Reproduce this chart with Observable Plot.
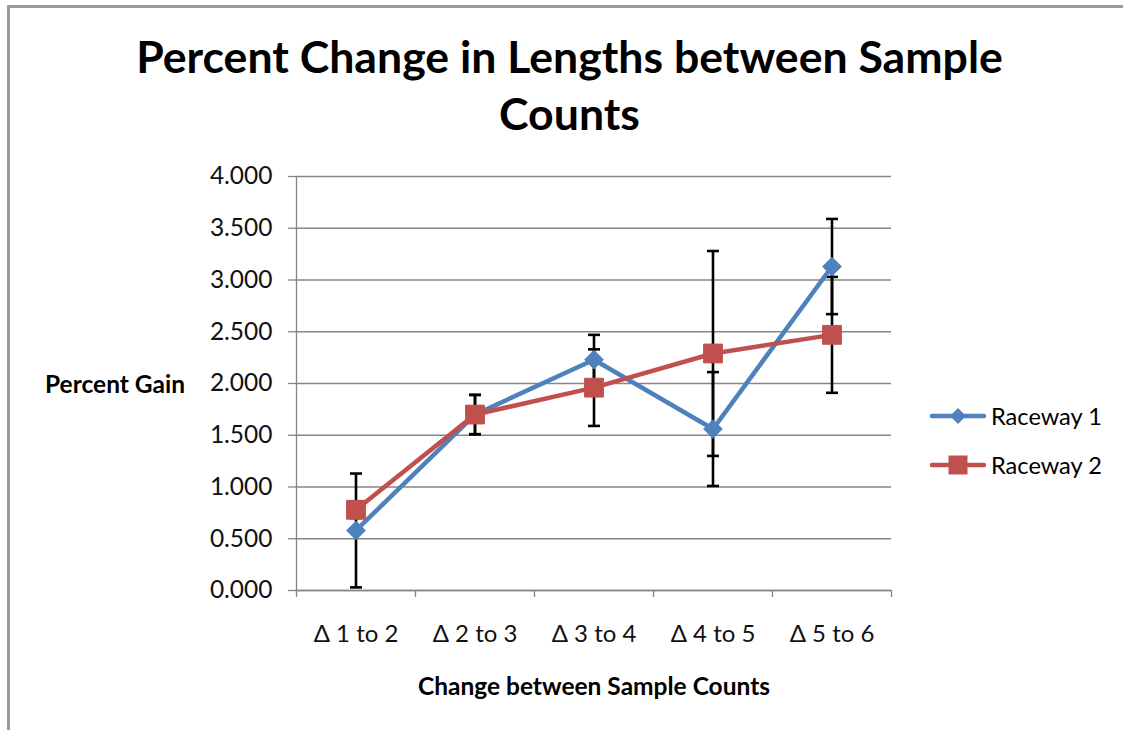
<!DOCTYPE html>
<html>
<head>
<meta charset="utf-8">
<script src="https://cdn.jsdelivr.net/npm/d3@7"></script>
<script src="https://cdn.jsdelivr.net/npm/@observablehq/plot@0.6"></script>
<style>
  html, body { margin: 0; padding: 0; background: #fff; overflow: hidden; }
  #wrap { position: relative; width: 1123px; height: 730px; overflow: hidden; font-family: Lato, "Open Sans", sans-serif; color: #000; }
  #frame { position: absolute; left: 7px; top: 5px; width: 1130px; height: 740px; border-left: 3px solid #9a9a9a; border-top: 3px solid #9a9a9a; box-sizing: border-box; }
  #chart { position: absolute; left: 0; top: 0; }
  .title { position: absolute; left: 0; width: 1139px; top: 27px; text-align: center; font-weight: bold; font-size: 44.6px; line-height: 57px; }
  .ylab { position: absolute; left: 45px; top: 369px; font-weight: bold; font-size: 24.5px; line-height: 30px; white-space: nowrap; }
  .xlab { position: absolute; left: 0; width: 1188px; top: 671px; text-align: center; font-weight: bold; font-size: 24.5px; line-height: 30px; white-space: nowrap; }
  .legend { position: absolute; left: 930px; top: 391px; font-size: 23.6px; }
  .legend .item { display: flex; align-items: center; height: 49px; }
  .legend svg { margin-right: 5px; }
</style>
</head>
<body>
<div id="wrap">
  <div id="frame"></div>
  <div id="chart"></div>
  <div class="title">Percent Change in Lengths between Sample<br>Counts</div>
  <div class="ylab">Percent Gain</div>
  <div class="xlab">Change between Sample Counts</div>
  <div class="legend" id="legend"></div>
</div>
<script>
// ---- data ----
const categories = ["Δ 1 to 2", "Δ 2 to 3", "Δ 3 to 4", "Δ 4 to 5", "Δ 5 to 6"];
const seriesNames = ["Raceway 1", "Raceway 2"];
const raceway1 = [0.58, 1.70, 2.23, 1.56, 3.13];
const raceway1Err = [0.55, 0.19, 0.24, 0.55, 0.46];
const raceway2 = [0.78, 1.70, 1.96, 2.29, 2.47];
const raceway2Err = [0.08, 0.19, 0.37, 0.99, 0.56];
const yTicks = [0, 0.5, 1.0, 1.5, 2.0, 2.5, 3.0, 3.5, 4.0];

const colors = { "Raceway 1": "#4F81BD", "Raceway 2": "#C0504D" };

const rows = [];
[[raceway1, raceway1Err], [raceway2, raceway2Err]].forEach(([vals, errs], s) => {
  vals.forEach((v, i) => rows.push({ series: seriesNames[s], cat: categories[i], pos: i + 0.5, value: v, lo: v - errs[i], hi: v + errs[i] }));
});
const r1 = rows.filter(d => d.series === "Raceway 1");
const r2 = rows.filter(d => d.series === "Raceway 2");

// horizontal dash symbol for error bar caps
const capSymbol = { draw(ctx, size) { const w = Math.sqrt(size / Math.PI); ctx.moveTo(-w, 0); ctx.lineTo(w, 0); } };

const gray = "#868686";
const chart = Plot.plot({
  width: 1123,
  height: 730,
  marginLeft: 296,
  marginRight: 232,
  marginTop: 176,
  marginBottom: 140,
  style: { fontFamily: "Lato, 'Open Sans', sans-serif", background: "transparent" },
  x: { type: "linear", domain: [0, categories.length], axis: null },
  y: { domain: [0, 4], axis: null },
  marks: [
    Plot.gridY(yTicks, { stroke: gray, strokeOpacity: 1, strokeWidth: 1.3 }),
    Plot.axisY({ ticks: yTicks, tickFormat: d3.format(".3f"), tickSize: 8, tickPadding: 16, stroke: gray, strokeWidth: 1.3, fill: "#111", fontSize: 24.5, label: null }),
    Plot.axisX({ ticks: d3.range(0, categories.length + 1), tickFormat: () => "", tickSize: 7, stroke: gray, strokeWidth: 1.3, label: null }),
    Plot.axisX({ ticks: categories.map((c, i) => i + 0.5), tickFormat: v => categories[Math.floor(v)], tickSize: 0, tickPadding: 34, fill: "#111", fontSize: 24, label: null }),
    Plot.ruleX([0], { stroke: gray, strokeWidth: 1.3 }),
    Plot.ruleY([0], { stroke: gray, strokeWidth: 1.3 }),
    // error bars
    Plot.ruleX(rows, { x: "pos", y1: "lo", y2: "hi", stroke: "#000", strokeWidth: 2.6 }),
    Plot.dot(rows, { x: "pos", y: "lo", symbol: capSymbol, r: 6, stroke: "#000", strokeWidth: 2.6, fill: "none" }),
    Plot.dot(rows, { x: "pos", y: "hi", symbol: capSymbol, r: 6, stroke: "#000", strokeWidth: 2.6, fill: "none" }),
    // Raceway 1
    Plot.line(r1, { x: "pos", y: "value", stroke: colors["Raceway 1"], strokeWidth: 4.5 }),
    Plot.dot(r1, { x: "pos", y: "value", symbol: "diamond2", r: 8.4, fill: colors["Raceway 1"], stroke: colors["Raceway 1"], strokeWidth: 1 }),
    // Raceway 2
    Plot.line(r2, { x: "pos", y: "value", stroke: colors["Raceway 2"], strokeWidth: 4.5 }),
    Plot.dot(r2, { x: "pos", y: "value", symbol: "square", r: 10.6, fill: colors["Raceway 2"], stroke: colors["Raceway 2"], strokeWidth: 1 })
  ]
});
document.getElementById("chart").appendChild(chart);

// legend
const legend = document.getElementById("legend");
seriesNames.forEach((name, k) => {
  const c = colors[name];
  const marker = k === 0
    ? `<path d="M28,2 L36,10 L28,18 L20,10 Z" fill="${c}"/>`
    : `<rect x="18.5" y="0.5" width="19" height="19" fill="${c}"/>`;
  const item = document.createElement("div");
  item.className = "item";
  item.innerHTML = `<svg width="56" height="20"><line x1="2" y1="10" x2="54" y2="10" stroke="${c}" stroke-width="4.5" stroke-linecap="round"/>${marker}</svg><span>${name}</span>`;
  legend.appendChild(item);
});
</script>
</body>
</html>
